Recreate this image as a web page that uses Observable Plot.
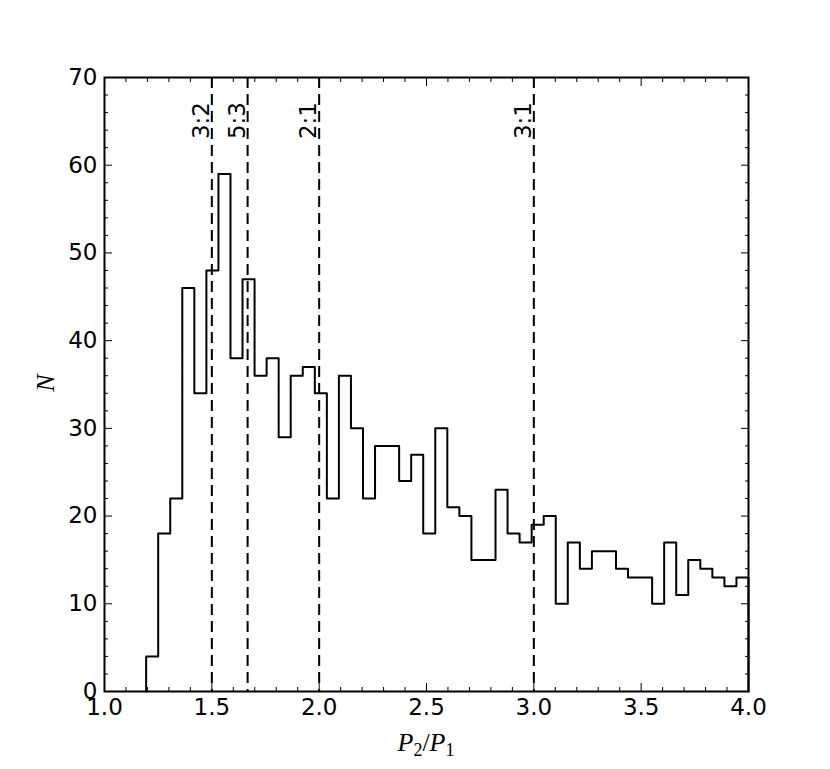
<!DOCTYPE html>
<html>
<head>
<meta charset="utf-8">
<script src="https://cdn.jsdelivr.net/npm/d3@7"></script>
<script src="https://cdn.jsdelivr.net/npm/@observablehq/plot@0.6"></script>
<style>
  html, body { margin: 0; padding: 0; background: white; }
  #chart svg { display: block; }
</style>
</head>
<body>
<div id="chart"></div>
<script>
// Histogram counts (50 equal-width bins between binLo and binHi)
const counts = [4,18,22,46,34,48,59,38,47,36,38,29,36,37,34,22,36,30,22,28,
                28,24,27,18,30,21,20,15,15,23,18,17,19,20,10,17,14,16,16,14,
                13,13,10,17,11,15,14,13,12,13];
const binLo = 1.194;
const binHi = 4.0;

// Resonance lines and labels
const resRatios = [1.5, 1.6667, 2.0, 3.0];
const resLabels = ["3:2", "5:3", "2:1", "3:1"];
const resLabelY = 67.2;

// Axis ticks
const xMajor = [1.0, 1.5, 2.0, 2.5, 3.0, 3.5, 4.0];
const xMinor = [1.1,1.2,1.3,1.4,1.6,1.7,1.8,1.9,2.1,2.2,2.3,2.4,2.6,2.7,2.8,2.9,3.1,3.2,3.3,3.4,3.6,3.7,3.8,3.9];
const yMajor = [0, 10, 20, 30, 40, 50, 60, 70];
const yMinor = [2,4,6,8,12,14,16,18,22,24,26,28,32,34,36,38,42,44,46,48,52,54,56,58,62,64,66,68];

// Build step outline
const nb = counts.length;
const w = (binHi - binLo) / nb;
const pts = [{x: binLo, y: 0}];
counts.forEach((c, i) => pts.push({x: binLo + i * w, y: c}));
pts.push({x: binHi, y: counts[nb - 1]});
pts.push({x: binHi, y: 0});

const resData = resRatios.map((r, i) => ({x: r, y: resLabelY, t: resLabels[i]}));

const W = 830, H = 769;
const mL = 104, mR = 82, mT = 77, mB = 78;
const fs = 23;

const blank = () => "";

const svg = Plot.plot({
  width: W,
  height: H,
  marginLeft: mL,
  marginRight: mR,
  marginTop: mT,
  marginBottom: mB,
  style: {fontFamily: "'DejaVu Sans', sans-serif", fontSize: fs + "px", background: "white", color: "black", overflow: "visible"},
  x: {domain: [1, 4], label: null},
  y: {domain: [0, 70], label: null},
  marks: [
    // dashed resonance lines
    Plot.ruleX(resRatios, {stroke: "black", strokeWidth: 2, strokeDasharray: "11,6"}),
    // histogram
    Plot.line(pts, {x: "x", y: "y", curve: "step-after", stroke: "black", strokeWidth: 2}),
    // resonance labels
    Plot.text(resData, {x: "x", y: "y", text: "t", rotate: -90, textAnchor: "end", lineAnchor: "bottom", dx: -3, fontSize: fs, fill: "black"}),
    // ticks inside, all four sides
    Plot.axisX({ticks: xMajor, anchor: "bottom", tickSize: -8, tickFormat: blank, label: null}),
    Plot.axisX({ticks: xMinor, anchor: "bottom", tickSize: -4, tickFormat: blank, label: null}),
    Plot.axisX({ticks: xMajor, anchor: "top", tickSize: -8, tickFormat: blank, label: null}),
    Plot.axisX({ticks: xMinor, anchor: "top", tickSize: -4, tickFormat: blank, label: null}),
    Plot.axisY({ticks: yMajor, anchor: "left", tickSize: -8, tickFormat: blank, label: null}),
    Plot.axisY({ticks: yMinor, anchor: "left", tickSize: -4, tickFormat: blank, label: null}),
    Plot.axisY({ticks: yMajor, anchor: "right", tickSize: -8, tickFormat: blank, label: null}),
    Plot.axisY({ticks: yMinor, anchor: "right", tickSize: -4, tickFormat: blank, label: null}),
    // tick labels
    Plot.axisX({ticks: xMajor, anchor: "bottom", tickSize: 0, tickPadding: 7, tickFormat: d3.format(".1f"), fontSize: fs, label: null}),
    Plot.axisY({ticks: yMajor, anchor: "left", tickSize: 0, tickPadding: 7, tickFormat: d3.format("d"), fontSize: fs, label: null}),
    Plot.frame({stroke: "black", strokeWidth: 2})
  ]
});

document.getElementById("chart").appendChild(svg);

// Axis titles (math-style italic serif with subscripts)
const s = d3.select(svg);
const xt = s.append("text")
  .attr("x", (mL + (W - mR)) / 2)
  .attr("y", 751)
  .attr("text-anchor", "middle")
  .attr("font-family", "'Liberation Serif', 'DejaVu Serif', serif")
  .attr("font-size", 26)
  .attr("fill", "black");
xt.append("tspan").attr("font-style", "italic").text("P");
xt.append("tspan").attr("font-size", 18).attr("dy", 5).text("2");
xt.append("tspan").attr("dy", -5).text("/");
xt.append("tspan").attr("font-style", "italic").text("P");
xt.append("tspan").attr("font-size", 18).attr("dy", 5).text("1");

s.append("text")
  .attr("transform", "translate(54,383) rotate(-90)")
  .attr("text-anchor", "middle")
  .attr("font-family", "'Liberation Serif', 'DejaVu Serif', serif")
  .attr("font-style", "italic")
  .attr("font-size", 26)
  .attr("fill", "black")
  .text("N");
</script>
</body>
</html>
